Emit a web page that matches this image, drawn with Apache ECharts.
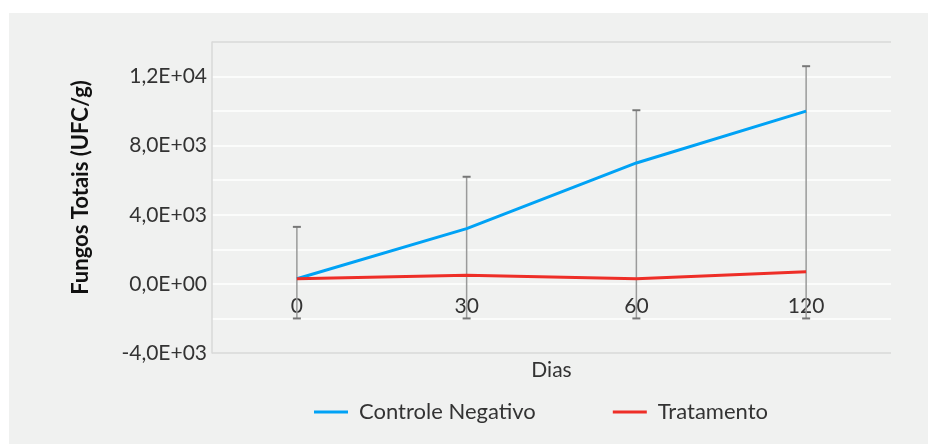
<!DOCTYPE html>
<html>
<head>
<meta charset="utf-8">
<script src="https://cdn.jsdelivr.net/npm/echarts@6/dist/echarts.min.js"></script>
<style>
  html, body { margin: 0; padding: 0; background: #fff; }
  #chart { width: 928px; height: 444px; }
</style>
</head>
<body>
<div id="chart"></div>
<script>
const days = ["0", "30", "60", "120"];
const controle = [300, 3200, 7000, 10000];
const tratamento = [300, 500, 300, 700];
const errLow = [-2000, -2000, -2000, -2000];
const errHigh = [3300, 6200, 10050, 12600];

const FONT = "Lato";
const chart = echarts.init(document.getElementById("chart"));

const errData = days.map((d, i) => [i, errLow[i], errHigh[i]]);

function sci(v) {
  if (v === 0) return "0,0E+00";
  const exp = Math.floor(Math.log10(Math.abs(v)));
  const mant = (v / Math.pow(10, exp)).toFixed(1).replace(".", ",");
  const e = (exp < 0 ? "-" : "+") + String(Math.abs(exp)).padStart(2, "0");
  return mant + "E" + e;
}

const lineColors = ["#d9d9d9"];
for (let i = 0; i < 8; i++) lineColors.push("#ffffff");
lineColors.push("#d9d9d9");

chart.setOption({
  backgroundColor: "#ffffff",
  animation: false,
  textStyle: { fontFamily: FONT },
  graphic: [
    {
      type: "rect",
      z: -10,
      shape: { x: 9, y: 13, width: 919, height: 431 },
      style: { fill: "#f0f1f0" },
    },
  ],
  grid: { left: 212, top: 42, right: 37, bottom: 91, outerBoundsMode: "none", containLabel: false },
  legend: {
    left: 309,
    top: 396,
    itemWidth: 34,
    itemHeight: 3,
    itemGap: 77,
    icon: "rect",
    textStyle: { fontSize: 22, color: "#333", fontFamily: FONT, padding: [0, 0, 0, 6] },
    data: ["Controle Negativo", "Tratamento"],
  },
  xAxis: {
    type: "category",
    data: days,
    name: "Dias",
    nameLocation: "middle",
    nameGap: 76,
    nameTextStyle: { fontSize: 21, color: "#333" },
    // axis sits on the zero line (69px above the plot bottom)
    offset: -69,
    axisLine: { show: false, onZero: false },
    axisTick: { show: false },
    axisLabel: { fontSize: 21, color: "#333", margin: 12 },
    splitLine: { show: false },
  },
  yAxis: {
    type: "value",
    min: -4000,
    max: 14000,
    interval: 2000,
    name: "Fungos Totais (UFC/g)",
    nameLocation: "middle",
    nameRotate: 90,
    nameGap: 120,
    nameTextStyle: { fontSize: 22, fontWeight: "bold", color: "#111", padding: [0, 0, 0, 20] },
    axisLine: { show: true, lineStyle: { color: "#d9d9d9", width: 1.5 } },
    axisTick: { show: false },
    axisLabel: {
      fontSize: 21,
      color: "#333",
      margin: 5,
      formatter: (v) => (v % 4000 === 0 ? sci(v) : ""),
    },
    splitLine: { show: true, lineStyle: { color: lineColors, width: 1.5 } },
  },
  series: [
    {
      type: "custom",
      name: "err",
      z: 1,
      silent: true,
      data: errData,
      renderItem: (params, api) => {
        const x = api.coord([api.value(0), 0])[0];
        const lo = api.coord([api.value(0), api.value(1)])[1];
        const hi = api.coord([api.value(0), api.value(2)])[1];
        const cap = 4;
        return {
          type: "group",
          children: [
            { type: "line", shape: { x1: x, y1: lo, x2: x, y2: hi }, style: { stroke: "#9a9a9a", lineWidth: 1.5 } },
            { type: "line", shape: { x1: x - cap, y1: hi, x2: x + cap, y2: hi }, style: { stroke: "#777", lineWidth: 2 } },
            { type: "line", shape: { x1: x - cap, y1: lo, x2: x + cap, y2: lo }, style: { stroke: "#777", lineWidth: 2 } },
          ],
        };
      },
    },
    {
      name: "Controle Negativo",
      type: "line",
      z: 3,
      data: controle,
      symbol: "none",
      lineStyle: { color: "#00a2f5", width: 3 },
      itemStyle: { color: "#00a2f5" },
    },
    {
      name: "Tratamento",
      type: "line",
      z: 3,
      data: tratamento,
      symbol: "none",
      lineStyle: { color: "#ee2e27", width: 3 },
      itemStyle: { color: "#ee2e27" },
    },
  ],
});
</script>
</body>
</html>
